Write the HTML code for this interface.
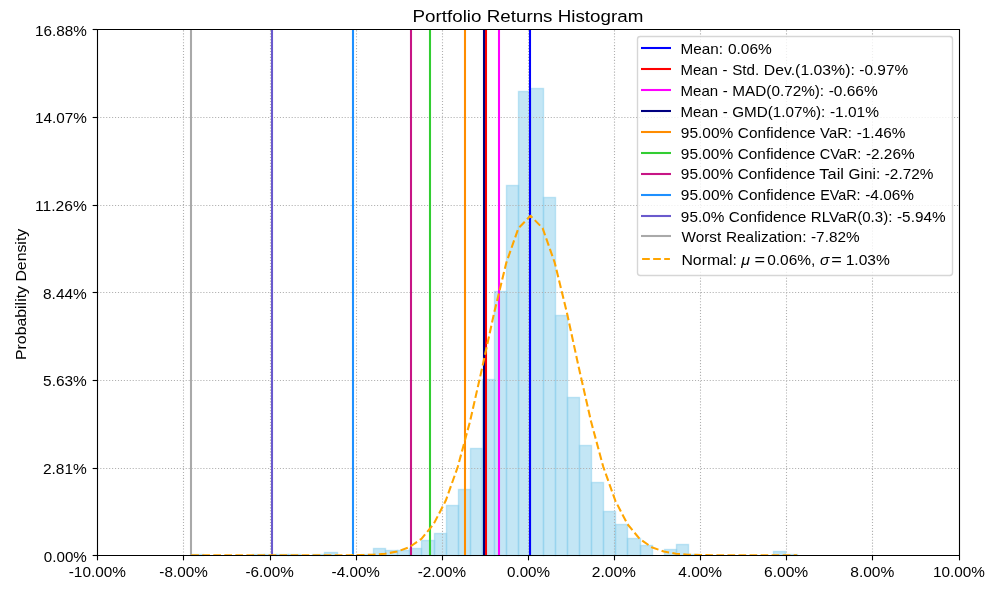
<!DOCTYPE html>
<html><head><meta charset="utf-8"><title>Portfolio Returns Histogram</title>
<style>html,body{margin:0;padding:0;background:#fff}svg{display:block;will-change:transform}text{font-family:"Liberation Sans",sans-serif;fill:#000}</style></head>
<body>
<svg width="1001" height="589" viewBox="0 0 1001 589">
<rect x="0" y="0" width="1001" height="589" fill="#fff"/>
<g fill="#87ceeb" fill-opacity="0.5" stroke="#87ceeb" stroke-opacity="0.5" stroke-width="1.39" stroke-linejoin="miter">
<rect x="191.5" y="554.5" width="12.0" height="1"/>
<rect x="252.5" y="554.5" width="12.0" height="1"/>
<rect x="264.5" y="554.5" width="12.0" height="1"/>
<rect x="276.5" y="554.5" width="12.0" height="1"/>
<rect x="288.5" y="554.5" width="12.0" height="1"/>
<rect x="312.5" y="554.5" width="12.0" height="1"/>
<rect x="324.5" y="552.5" width="13.0" height="3"/>
<rect x="361.5" y="554.5" width="12.0" height="1"/>
<rect x="373.5" y="548.5" width="12.0" height="7"/>
<rect x="385.5" y="550.5" width="12.0" height="5"/>
<rect x="397.5" y="550.5" width="12.0" height="5"/>
<rect x="409.5" y="548.5" width="12.0" height="7"/>
<rect x="421.5" y="540.5" width="13.0" height="15"/>
<rect x="434.5" y="533.5" width="12.0" height="22"/>
<rect x="446.5" y="505.5" width="12.0" height="50"/>
<rect x="458.5" y="489.5" width="12.0" height="66"/>
<rect x="470.5" y="448.5" width="12.0" height="107"/>
<rect x="482.5" y="379.5" width="12.0" height="176"/>
<rect x="494.5" y="291.5" width="12.0" height="264"/>
<rect x="506.5" y="185.5" width="12.0" height="370"/>
<rect x="518.5" y="91.5" width="12.0" height="464"/>
<rect x="530.5" y="88.5" width="13.0" height="467"/>
<rect x="543.5" y="197.5" width="12.0" height="358"/>
<rect x="555.5" y="315.5" width="12.0" height="240"/>
<rect x="567.5" y="397.5" width="12.0" height="158"/>
<rect x="579.5" y="445.5" width="12.0" height="110"/>
<rect x="591.5" y="482.5" width="12.0" height="73"/>
<rect x="603.5" y="511.5" width="12.0" height="44"/>
<rect x="615.5" y="524.5" width="12.0" height="31"/>
<rect x="627.5" y="538.5" width="13.0" height="17"/>
<rect x="640.5" y="545.5" width="12.0" height="10"/>
<rect x="664.5" y="549.5" width="12.0" height="6"/>
<rect x="676.5" y="544.5" width="12.0" height="11"/>
<rect x="688.5" y="554.5" width="12.0" height="1"/>
<rect x="773.5" y="551.5" width="12.0" height="4"/>
<rect x="785.5" y="554.5" width="12.0" height="1"/>
</g>
<g stroke="#b0b0b0" stroke-width="1.11" stroke-dasharray="1.111 1.833" fill="none">
<path d="M183.5 555.5V29.5"/>
<path d="M270.5 555.5V29.5"/>
<path d="M356.5 555.5V29.5"/>
<path d="M442.5 555.5V29.5"/>
<path d="M528.5 555.5V29.5"/>
<path d="M614.5 555.5V29.5"/>
<path d="M700.5 555.5V29.5"/>
<path d="M786.5 555.5V29.5"/>
<path d="M872.5 555.5V29.5"/>
<path d="M97.34 468.5H958.54"/>
<path d="M97.34 380.5H958.54"/>
<path d="M97.34 292.5H958.54"/>
<path d="M97.34 205.5H958.54"/>
<path d="M97.34 117.5H958.54"/>
</g>
<g stroke-width="2.08" fill="none">
<path d="M530 555.5V29.5" stroke="#0000ff"/>
<path d="M486 555.5V29.5" stroke="#ff0000"/>
<path d="M499 555.5V29.5" stroke="#ff00ff"/>
<path d="M484 555.5V29.5" stroke="#000080"/>
<path d="M465 555.5V29.5" stroke="#ff8c00"/>
<path d="M430 555.5V29.5" stroke="#32cd32"/>
<path d="M411 555.5V29.5" stroke="#c71585"/>
<path d="M353 555.5V29.5" stroke="#1e90ff"/>
<path d="M272 555.5V29.5" stroke="#6a5acd"/>
<path d="M191 555.5V29.5" stroke="#a9a9a9"/>
</g>
<clipPath id="axclip"><rect x="97.34" y="29.3" width="861.2" height="526"/></clipPath>
<polyline clip-path="url(#axclip)" points="191.21,555.30 203.33,555.30 215.44,555.30 227.56,555.30 239.68,555.30 251.80,555.30 263.91,555.30 276.03,555.30 288.15,555.30 300.26,555.30 312.38,555.30 324.50,555.29 336.62,555.28 348.73,555.22 360.85,555.07 372.97,554.68 385.08,553.73 397.20,551.60 409.32,547.19 421.44,538.81 433.55,524.19 445.67,500.84 457.79,466.82 469.90,421.87 482.02,368.57 494.14,312.77 506.25,262.96 518.37,228.26 530.49,215.75 542.61,228.12 554.72,262.71 566.84,312.46 578.96,368.25 591.07,421.59 603.19,466.59 615.31,500.68 627.43,524.09 639.54,538.75 651.66,547.15 663.78,551.58 675.89,553.72 688.01,554.68 700.13,555.07 712.25,555.22 724.36,555.28 736.48,555.29 748.60,555.30 760.71,555.30 772.83,555.30 784.95,555.30 797.07,555.30" fill="none" stroke="#ffa500" stroke-width="2.08" stroke-dasharray="7.71 3.33" stroke-linejoin="round"/>
<g stroke="#000" stroke-width="1.11" fill="none" stroke-linecap="square">
<path d="M97.5 29.5H959.5V555.5H97.5Z"/>
</g><g stroke="#000" stroke-width="1.11" fill="none">
<path d="M97.5 555.5v4.86"/>
<path d="M183.5 555.5v4.86"/>
<path d="M270.5 555.5v4.86"/>
<path d="M356.5 555.5v4.86"/>
<path d="M442.5 555.5v4.86"/>
<path d="M528.5 555.5v4.86"/>
<path d="M614.5 555.5v4.86"/>
<path d="M700.5 555.5v4.86"/>
<path d="M786.5 555.5v4.86"/>
<path d="M872.5 555.5v4.86"/>
<path d="M959.5 555.5v4.86"/>
<path d="M97.5 555.5h-4.86"/>
<path d="M97.5 468.5h-4.86"/>
<path d="M97.5 380.5h-4.86"/>
<path d="M97.5 292.5h-4.86"/>
<path d="M97.5 205.5h-4.86"/>
<path d="M97.5 117.5h-4.86"/>
<path d="M97.5 29.5h-4.86"/>
</g>
<g font-size="14.14">
<text x="68.76" y="577" textLength="57.19" lengthAdjust="spacingAndGlyphs">-10.00%</text>
<text x="159.38" y="577" textLength="48.32" lengthAdjust="spacingAndGlyphs">-8.00%</text>
<text x="245.50" y="577" textLength="48.32" lengthAdjust="spacingAndGlyphs">-6.00%</text>
<text x="331.62" y="577" textLength="48.32" lengthAdjust="spacingAndGlyphs">-4.00%</text>
<text x="417.74" y="577" textLength="48.32" lengthAdjust="spacingAndGlyphs">-2.00%</text>
<text x="507.01" y="577" textLength="43.07" lengthAdjust="spacingAndGlyphs">0.00%</text>
<text x="591.78" y="577" textLength="44.19" lengthAdjust="spacingAndGlyphs">2.00%</text>
<text x="678.33" y="577" textLength="43.75" lengthAdjust="spacingAndGlyphs">4.00%</text>
<text x="764.01" y="577" textLength="44.20" lengthAdjust="spacingAndGlyphs">6.00%</text>
<text x="850.24" y="577" textLength="44.08" lengthAdjust="spacingAndGlyphs">8.00%</text>
<text x="932.97" y="577" textLength="51.91" lengthAdjust="spacingAndGlyphs">10.00%</text>
<text x="43.81" y="562.0" textLength="43.03" lengthAdjust="spacingAndGlyphs">0.00%</text>
<text x="42.92" y="474.0" textLength="43.93" lengthAdjust="spacingAndGlyphs">2.81%</text>
<text x="43.08" y="386.0" textLength="43.77" lengthAdjust="spacingAndGlyphs">5.63%</text>
<text x="43.03" y="299.0" textLength="43.82" lengthAdjust="spacingAndGlyphs">8.44%</text>
<text x="34.99" y="211.0" textLength="51.86" lengthAdjust="spacingAndGlyphs">11.26%</text>
<text x="34.99" y="123.0" textLength="51.86" lengthAdjust="spacingAndGlyphs">14.07%</text>
<text x="34.99" y="36.0" textLength="51.86" lengthAdjust="spacingAndGlyphs">16.88%</text>
<text transform="translate(25.5 360.00) rotate(-90)" x="0" y="0" textLength="131.23" lengthAdjust="spacingAndGlyphs">Probability Density</text>
</g>
<text x="412.56" y="21.8" font-size="16.97" textLength="230.78" lengthAdjust="spacingAndGlyphs">Portfolio Returns Histogram</text>
<rect x="637.5" y="36.5" width="315" height="239" rx="2.78" ry="2.78" fill="#fff" fill-opacity="0.8" stroke="#cccccc" stroke-opacity="0.8" stroke-width="1.39"/>
<g stroke-width="2.08" fill="none" stroke-linecap="butt">
<path d="M641 48H671" stroke="#0000ff"/>
<path d="M641 69H671" stroke="#ff0000"/>
<path d="M641 90H671" stroke="#ff00ff"/>
<path d="M641 111H671" stroke="#000080"/>
<path d="M641 132H671" stroke="#ff8c00"/>
<path d="M641 153H671" stroke="#32cd32"/>
<path d="M641 174H671" stroke="#c71585"/>
<path d="M641 195H671" stroke="#1e90ff"/>
<path d="M641 216H671" stroke="#6a5acd"/>
<path d="M641 236H671" stroke="#a9a9a9"/>
<path d="M642.1 259H669.9" stroke="#ffa500" stroke-dasharray="7.71 3.33"/>
</g>
<g font-size="14.14">
<text y="54"><tspan x="680.55" textLength="42.44" lengthAdjust="spacingAndGlyphs">Mean:</tspan> <tspan x="727.98" textLength="43.87" lengthAdjust="spacingAndGlyphs">0.06%</tspan></text>
<text y="75"><tspan x="680.57" textLength="37.38" lengthAdjust="spacingAndGlyphs">Mean</tspan> <tspan x="722.58" textLength="4.97" lengthAdjust="spacingAndGlyphs">-</tspan> <tspan x="732.18" textLength="27.08" lengthAdjust="spacingAndGlyphs">Std.</tspan> <tspan x="763.85" textLength="90.95" lengthAdjust="spacingAndGlyphs">Dev.(1.03%):</tspan> <tspan x="859.38" textLength="48.77" lengthAdjust="spacingAndGlyphs">-0.97%</tspan></text>
<text y="96"><tspan x="680.57" textLength="37.59" lengthAdjust="spacingAndGlyphs">Mean</tspan> <tspan x="722.81" textLength="5.00" lengthAdjust="spacingAndGlyphs">-</tspan> <tspan x="732.36" textLength="91.70" lengthAdjust="spacingAndGlyphs">MAD(0.72%):</tspan> <tspan x="828.71" textLength="49.05" lengthAdjust="spacingAndGlyphs">-0.66%</tspan></text>
<text y="117"><tspan x="680.57" textLength="37.58" lengthAdjust="spacingAndGlyphs">Mean</tspan> <tspan x="722.79" textLength="5.00" lengthAdjust="spacingAndGlyphs">-</tspan> <tspan x="732.24" textLength="93.03" lengthAdjust="spacingAndGlyphs">GMD(1.07%):</tspan> <tspan x="829.92" textLength="49.03" lengthAdjust="spacingAndGlyphs">-1.01%</tspan></text>
<text y="138"><tspan x="680.88" textLength="52.40" lengthAdjust="spacingAndGlyphs">95.00%</tspan> <tspan x="737.89" textLength="77.75" lengthAdjust="spacingAndGlyphs">Confidence</tspan> <tspan x="820.14" textLength="31.87" lengthAdjust="spacingAndGlyphs">VaR:</tspan> <tspan x="856.70" textLength="48.74" lengthAdjust="spacingAndGlyphs">-1.46%</tspan></text>
<text y="159"><tspan x="680.88" textLength="52.29" lengthAdjust="spacingAndGlyphs">95.00%</tspan> <tspan x="737.76" textLength="77.58" lengthAdjust="spacingAndGlyphs">Confidence</tspan> <tspan x="819.85" textLength="41.40" lengthAdjust="spacingAndGlyphs">CVaR:</tspan> <tspan x="865.96" textLength="48.64" lengthAdjust="spacingAndGlyphs">-2.26%</tspan></text>
<text y="179"><tspan x="680.88" textLength="52.25" lengthAdjust="spacingAndGlyphs">95.00%</tspan> <tspan x="737.72" textLength="77.52" lengthAdjust="spacingAndGlyphs">Confidence</tspan> <tspan x="819.30" textLength="24.66" lengthAdjust="spacingAndGlyphs">Tail</tspan> <tspan x="848.62" textLength="31.54" lengthAdjust="spacingAndGlyphs">Gini:</tspan> <tspan x="884.75" textLength="48.60" lengthAdjust="spacingAndGlyphs">-2.72%</tspan></text>
<text y="200"><tspan x="680.88" textLength="52.35" lengthAdjust="spacingAndGlyphs">95.00%</tspan> <tspan x="737.83" textLength="77.67" lengthAdjust="spacingAndGlyphs">Confidence</tspan> <tspan x="820.16" textLength="40.37" lengthAdjust="spacingAndGlyphs">EVaR:</tspan> <tspan x="865.25" textLength="48.69" lengthAdjust="spacingAndGlyphs">-4.06%</tspan></text>
<text y="222"><tspan x="680.88" textLength="43.39" lengthAdjust="spacingAndGlyphs">95.0%</tspan> <tspan x="728.86" textLength="77.39" lengthAdjust="spacingAndGlyphs">Confidence</tspan> <tspan x="810.84" textLength="81.55" lengthAdjust="spacingAndGlyphs">RLVaR(0.3):</tspan> <tspan x="897.03" textLength="48.52" lengthAdjust="spacingAndGlyphs">-5.94%</tspan></text>
<text y="242"><tspan x="681.53" textLength="39.68" lengthAdjust="spacingAndGlyphs">Worst</tspan> <tspan x="725.90" textLength="80.55" lengthAdjust="spacingAndGlyphs">Realization:</tspan> <tspan x="811.02" textLength="48.52" lengthAdjust="spacingAndGlyphs">-7.82%</tspan></text>
<text x="681.40" y="265" textLength="55.45" lengthAdjust="spacingAndGlyphs">Normal:</text>
<text x="741.23" y="265" font-style="italic" textLength="8.72" lengthAdjust="spacingAndGlyphs">&#956;</text>
<text x="754.42" y="265" textLength="10.58" lengthAdjust="spacingAndGlyphs">=</text>
<text x="767.20" y="265" textLength="48.09" lengthAdjust="spacingAndGlyphs">0.06%,</text>
<text x="819.98" y="265" font-style="italic" textLength="9.43" lengthAdjust="spacingAndGlyphs">&#963;</text>
<text x="831.32" y="265" textLength="10.58" lengthAdjust="spacingAndGlyphs">=</text>
<text x="845.71" y="265" textLength="44.14" lengthAdjust="spacingAndGlyphs">1.03%</text>
</g>
</svg>
</body></html>
